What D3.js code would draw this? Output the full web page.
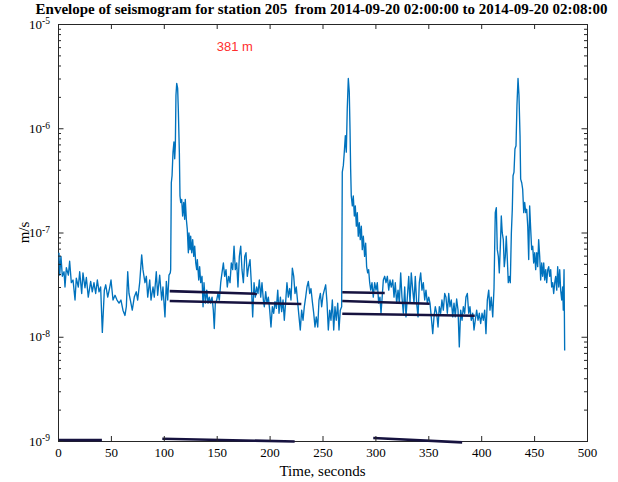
<!DOCTYPE html>
<html><head><meta charset="utf-8">
<script src="https://cdn.jsdelivr.net/npm/d3@7"></script>
<style>body{margin:0;background:#fff}</style>
</head><body>
<svg id="chart" width="618" height="482"></svg>
<script>
// ---- data ----
const titleText = "Envelope of seismogram for station 205  from 2014-09-20 02:00:00 to 2014-09-20 02:08:00";
const xLabel = "Time, seconds";
const yLabel = "m/s";
const annotationText = "381 m";
const annotationPos = [150, 5.5e-6];
const xTicks = [0, 50, 100, 150, 200, 250, 300, 350, 400, 450, 500];
const yTickExponents = [-9, -8, -7, -6, -5];

const time = [
0.9,1.6,2.8,4.1,5.7,6.6,7.9,9.8,11.0,12.6,14.2,16.1,17.3,19.2,20.5,22.4,23.6,25.5,26.8,28.6,30.9,32.4,34.0,35.6,37.2,38.8,40.3,41.9,43.8,45.1,47.0,48.8,50.1,52.0,53.9,55.8,57.7,59.5,61.4,63.3,64.6,65.9,67.1,68.4,70.2,72.1,74.0,75.3,77.2,79.1,80.3,82.2,83.5,84.8,86.7,87.9,89.8,91.0,92.9,94.2,96.1,98.0,99.2,101.1,102.4,103.7,104.9,106.1,
106.5,107.1,107.8,108.7,109.6,110.3,110.9,111.5,112.2,113.1,113.7,114.7,115.3,116.0,116.9,117.8,118.8,119.7,120.3,121.3,122.2,123.2,123.8,124.8,125.4,126.4,127.3,128.3,129.2,130.2,131.1,131.7,133.0,133.9,134.9,136.1,137.1,138.0,139.3,140.6,141.8,143.0,144.3,145.6,146.8,147.7,148.7,150.0,151.2,152.5,153.8,155.0,156.3,157.5,158.8,160.0,161.3,162.6,163.8,165.1,166.4,167.6,168.9,170.1,171.4,172.7,173.9,175.2,176.5,177.7,178.9,180.2,181.5,182.7,184.0,185.3,186.5,187.8,189.0,190.3,191.6,192.8,194.1,
195.0,196.3,197.5,198.8,200.1,201.3,202.6,203.9,205.1,206.4,207.7,208.9,210.2,211.4,212.7,213.9,215.2,216.4,217.7,219.0,220.2,221.5,222.8,224.0,225.2,226.6,227.8,229.0,230.3,231.6,232.8,234.1,235.3,236.6,237.9,239.1,240.4,241.7,242.9,244.1,245.5,246.7,248.0,249.2,250.5,251.7,253.0,254.3,255.5,256.8,258.0,259.3,260.6,261.8,263.0,264.4,265.6,266.8,268.1,
268.7,269.7,270.6,271.6,272.5,273.4,274.4,275.3,276.0,276.6,277.2,278.2,279.1,280.1,281.0,282.0,282.9,283.8,284.8,285.7,286.7,287.6,288.6,289.8,290.8,291.7,292.7,293.6,294.6,295.6,296.8,298.0,299.3,300.6,301.8,303.1,304.3,305.3,306.2,307.5,308.8,310.0,311.3,312.6,313.8,315.0,316.4,317.6,318.8,320.1,321.4,322.6,323.9,325.1,326.4,327.7,328.9,330.2,331.5,332.7,333.9,335.3,336.5,337.7,339.0,340.3,341.5,342.8,344.0,345.3,346.6,347.8,349.1,350.4,351.6,352.8,354.2,
355.4,356.6,357.9,359.2,360.4,361.7,362.9,364.2,365.5,366.7,368.0,369.3,370.5,371.7,373.1,374.3,375.5,376.8,378.1,379.3,380.6,381.9,383.1,384.4,385.6,386.9,388.2,389.4,390.6,392.0,393.2,394.4,395.7,397.0,398.2,399.5,400.8,402.0,403.3,404.5,405.8,407.1,408.3,409.5,410.9,412.1,
413.3,414.3,415.2,416.2,417.1,418.1,419.0,419.9,420.9,421.8,422.8,423.7,424.7,425.6,426.6,427.5,428.5,429.4,430.1,431.0,431.9,432.9,433.8,434.8,435.7,436.7,437.3,438.3,439.2,440.2,441.1,442.1,443.0,444.0,444.9,445.8,446.8,447.7,448.7,449.6,450.6,451.5,452.5,453.4,454.3,455.3,456.2,457.2,458.1,459.1,460.0,461.0,461.9,462.9,463.8,464.7,465.7,466.6,467.6,468.5,469.5,470.4,471.4,472.3,473.3,474.2,475.1,476.1,477.0,477.6,478.3,478.9
];

const envelope = [
6.4e-8,3.9e-8,5.9e-8,3.8e-8,4.2e-8,3.0e-8,4.6e-8,3.9e-8,5.3e-8,3.3e-8,3.5e-8,2.25e-8,3.65e-8,3.0e-8,4.2e-8,2.6e-8,4.1e-8,2.95e-8,3.7e-8,2.4e-8,3.4e-8,2.7e-8,3.3e-8,2.6e-8,3.5e-8,2.7e-8,3.0e-8,1.1e-8,2.8e-8,3.15e-8,2.4e-8,2.95e-8,3.5e-8,2.25e-8,2.5e-8,2.25e-8,2.1e-8,2.25e-8,1.8e-8,1.6e-8,1.95e-8,4.2e-8,2.6e-8,2.25e-8,1.8e-8,2.4e-8,2.7e-8,2.25e-8,3.3e-8,6.1e-8,4.4e-8,3.3e-8,3.8e-8,2.4e-8,3.5e-8,2.25e-8,3.0e-8,2.4e-8,4.2e-8,2.5e-8,3.9e-8,2.25e-8,3.0e-8,1.55e-8,3.4e-8,2.25e-8,3.9e-8,4.1e-8,
4.4e-8,3.0e-7,3.5e-7,5.9e-7,7.4e-7,5.1e-7,6.8e-7,2.07e-6,2.69e-6,2.41e-6,1.54e-6,5.9e-7,2.24e-7,1.94e-7,2.08e-7,1.44e-7,1.94e-7,1.34e-7,2.08e-7,1.34e-7,1.07e-7,6.4e-8,9.9e-8,6.85e-8,9.2e-8,6.4e-8,8.55e-8,5.9e-8,7.4e-8,5.1e-8,4.4e-8,5.5e-8,3.5e-8,4.7e-8,3.3e-8,3.8e-8,1.94e-8,3.3e-8,2.1e-8,2.8e-8,2.1e-8,2.4e-8,2.1e-8,2.4e-8,1.8e-8,1.2e-8,2.1e-8,2.25e-8,2.6e-8,2.25e-8,3.3e-8,4.1e-8,5.1e-8,3.8e-8,4.4e-8,3.0e-8,3.8e-8,3.3e-8,5.1e-8,4.4e-8,7.4e-8,4.4e-8,5.1e-8,3.0e-8,5.9e-8,7.4e-8,4.4e-8,3.3e-8,5.9e-8,6.4e-8,3.8e-8,4.7e-8,5.5e-8,3.3e-8,1.55e-8,3.3e-8,2.4e-8,3.0e-8,2.6e-8,3.5e-8,2.4e-8,3.3e-8,2.25e-8,
1.94e-8,2.7e-8,2.1e-8,2.4e-8,1.8e-8,1.24e-8,1.94e-8,1.68e-8,2.17e-8,1.87e-8,2.8e-8,1.68e-8,2.4e-8,1.74e-8,2.25e-8,1.44e-8,2.17e-8,3.3e-8,2.4e-8,2.9e-8,2.25e-8,4.55e-8,3.8e-8,2.6e-8,3.0e-8,2.1e-8,1.55e-8,1.16e-8,1.8e-8,1.44e-8,1.94e-8,2.4e-8,3.0e-8,3.4e-8,2.6e-8,2.9e-8,2.17e-8,1.68e-8,1.24e-8,1.55e-8,1.24e-8,2.25e-8,2.6e-8,1.94e-8,2.5e-8,2.8e-8,3.15e-8,2.1e-8,1.16e-8,1.8e-8,1.44e-8,2.25e-8,1.16e-8,1.94e-8,1.44e-8,2.1e-8,1.16e-8,1.8e-8,1.94e-8,
3.8e-7,4.4e-7,5.9e-7,8.5e-7,5.9e-7,1.54e-6,3.0e-6,2.24e-6,9.9e-7,4.06e-7,2.24e-7,1.8e-7,2.24e-7,1.44e-7,1.8e-7,1.15e-7,1.55e-7,9.2e-8,1.24e-7,8.55e-8,1.15e-7,6.85e-8,9.2e-8,5.9e-8,7.9e-8,4.7e-8,4.1e-8,4.4e-8,3.3e-8,2.8e-8,3.3e-8,2.4e-8,3.3e-8,2.8e-8,3.3e-8,2.1e-8,2.4e-8,1.68e-8,2.25e-8,3.5e-8,3.8e-8,3.3e-8,3.8e-8,2.8e-8,3.5e-8,3.0e-8,3.5e-8,2.4e-8,3.3e-8,2.1e-8,2.8e-8,2.1e-8,4.1e-8,2.4e-8,1.68e-8,3.0e-8,1.55e-8,2.4e-8,3.8e-8,2.1e-8,4.1e-8,2.8e-8,2.1e-8,3.8e-8,2.1e-8,1.55e-8,3.3e-8,4.1e-8,2.8e-8,3.3e-8,2.25e-8,2.8e-8,2.1e-8,2.4e-8,2.1e-8,1.55e-8,1.07e-8,
1.55e-8,1.94e-8,1.68e-8,1.24e-8,1.94e-8,1.68e-8,2.25e-8,1.8e-8,2.6e-8,2.4e-8,1.68e-8,2.6e-8,1.94e-8,2.25e-8,1.55e-8,2.1e-8,1.55e-8,2.3e-8,1.8e-8,0.8e-8,1.8e-8,1.44e-8,1.94e-8,1.68e-8,2.4e-8,2.6e-8,1.68e-8,1.94e-8,1.44e-8,1.68e-8,1.16e-8,1.44e-8,1.8e-8,1.44e-8,1.68e-8,1.34e-8,1.68e-8,1.44e-8,1.8e-8,1.07e-8,2.25e-8,2.8e-8,1.8e-8,2.4e-8,1.55e-8,2.9e-8,
1.55e-7,1.73e-7,6.85e-8,5.9e-8,4.1e-8,7.4e-8,1.44e-7,9.9e-8,8.55e-8,4.7e-8,5.9e-8,9.2e-8,5.5e-8,3.3e-8,3.8e-8,3.3e-8,9.9e-8,1.67e-7,3.5e-7,3.8e-7,6.33e-7,6.8e-7,1.66e-6,3.0e-6,2.07e-6,8.5e-7,3.25e-7,3.0e-7,2.6e-7,1.55e-7,1.94e-7,1.55e-7,1.67e-7,1.15e-7,5.5e-8,1.8e-7,1.07e-7,6.85e-8,7.4e-8,5.1e-8,6.4e-8,4.4e-8,6.4e-8,4.7e-8,8.55e-8,5.9e-8,3.5e-8,5.1e-8,3.8e-8,5.1e-8,3.5e-8,4.4e-8,3.3e-8,4.4e-8,4.7e-8,3.8e-8,4.4e-8,3.0e-8,3.3e-8,2.6e-8,3.3e-8,3.8e-8,2.8e-8,4.7e-8,3.0e-8,4.4e-8,2.8e-8,2.25e-8,3.0e-8,1.8e-8,4.4e-8,7.4e-9
];

// dark straight segments: [startTime, startValue, endTime, endValue]
const fitLines = [
  [105.6, 2.74e-8, 188.0, 2.58e-8],
  [105.6, 2.20e-8, 230.0, 2.06e-8],
  [268.7, 2.67e-8, 308.8, 2.63e-8],
  [268.7, 2.20e-8, 351.3, 2.07e-8],
  [268.7, 1.66e-8, 393.9, 1.59e-8]
];
const baseLines = [
  [0.0, 1.02e-9, 41.5, 1.02e-9],
  [98.6, 1.05e-9, 223.7, 0.99e-9],
  [298.0, 1.07e-9, 382.0, 0.97e-9]
];

// ---- chart ----
const serif = "'Liberation Serif','Times New Roman',Times,serif";
const sans = "'Liberation Sans',Arial,Helvetica,sans-serif";
const pLeft = 58, pRight = 587, pTop = 24, pBottom = 441;
const axisColor = "#262626";

const svg = d3.select("#chart");
svg.append("rect").attr("width", 618).attr("height", 482).attr("fill", "#fff");

const x = d3.scaleLinear().domain([0, 500]).range([pLeft, pRight]);
const y = d3.scaleLog().domain([1e-9, 1e-5]).range([pBottom, pTop]);

const yMajor = yTickExponents.map(e => Math.pow(10, e));
const yMinor = [];
yTickExponents.slice(0, -1).forEach(e => { for (let k = 2; k <= 9; k++) yMinor.push(k * Math.pow(10, e)); });

// plot box
svg.append("rect").attr("x", pLeft + 0.5).attr("y", pTop + 0.5)
  .attr("width", pRight - pLeft).attr("height", pBottom - pTop)
  .attr("fill", "none").attr("stroke", axisColor).attr("stroke-width", 1);

// envelope
const line = d3.line().x((d, i) => x(time[i])).y(d => y(d));
svg.append("path").datum(envelope).attr("d", line)
  .attr("fill", "none").attr("stroke", "#0072BD").attr("stroke-width", 1.35)
  .attr("stroke-linejoin", "round");

// dark segments
svg.append("g").selectAll("line").data(fitLines.concat(baseLines)).join("line")
  .attr("x1", d => x(d[0])).attr("y1", d => y(d[1]))
  .attr("x2", d => x(d[2])).attr("y2", d => y(d[3]))
  .attr("stroke", "#16123f").attr("stroke-width", 2.6);

function styleAxis(g) {
  g.select(".domain").remove();
  g.selectAll(".tick line").attr("stroke", axisColor);
  g.selectAll(".tick text").attr("font-family", serif).attr("font-size", 13).attr("fill", "#000");
}

// x axes
svg.append("g").attr("transform", `translate(0,${pBottom})`)
  .call(d3.axisBottom(x).tickValues(xTicks).tickFormat(d3.format("d")).tickSizeInner(-5).tickSizeOuter(0).tickPadding(7))
  .call(styleAxis);
svg.append("g").attr("transform", `translate(0,${pTop})`)
  .call(d3.axisTop(x).tickValues(xTicks).tickFormat(() => "").tickSizeInner(-5).tickSizeOuter(0))
  .call(styleAxis);

// y axes (major + minor, both sides)
const gyl = svg.append("g").attr("transform", `translate(${pLeft},0)`)
  .call(d3.axisLeft(y).tickValues(yMajor).tickSizeInner(-5.5).tickSizeOuter(0).tickPadding(8))
  .call(styleAxis);
gyl.selectAll(".tick text").each(function(d) {
  const t = d3.select(this);
  t.text(null);
  t.append("tspan").text("10");
  t.append("tspan").attr("dy", "-0.45em").attr("font-size", "9.5px").text(String(Math.round(Math.log10(d))));
});
svg.append("g").attr("transform", `translate(${pLeft},0)`)
  .call(d3.axisLeft(y).tickValues(yMinor).tickFormat(() => "").tickSizeInner(-3).tickSizeOuter(0))
  .call(styleAxis);
svg.append("g").attr("transform", `translate(${pRight},0)`)
  .call(d3.axisRight(y).tickValues(yMajor).tickFormat(() => "").tickSizeInner(-5.5).tickSizeOuter(0))
  .call(styleAxis);
svg.append("g").attr("transform", `translate(${pRight},0)`)
  .call(d3.axisRight(y).tickValues(yMinor).tickFormat(() => "").tickSizeInner(-3).tickSizeOuter(0))
  .call(styleAxis);

// title and labels
svg.append("text").attr("x", (pLeft + pRight) / 2 - 1).attr("y", 14)
  .attr("text-anchor", "middle").attr("font-family", serif).attr("font-weight", "bold")
  .attr("font-size", 15).attr("fill", "#000")
  .style("white-space", "pre").text(titleText);
svg.append("text").attr("x", (pLeft + pRight) / 2).attr("y", 476)
  .attr("text-anchor", "middle").attr("font-family", serif).attr("font-size", 15)
  .attr("fill", "#000").text(xLabel);
svg.append("text").attr("transform", `translate(29,${(pTop + pBottom) / 2}) rotate(-90)`)
  .attr("text-anchor", "middle").attr("font-family", serif).attr("font-size", 15)
  .attr("fill", "#000").text(yLabel);

// annotation
svg.append("text").attr("x", x(annotationPos[0])).attr("y", y(annotationPos[1]))
  .attr("font-family", sans).attr("font-size", 13).attr("fill", "#ff2e2e")
  .text(annotationText);
</script>
</body></html>
